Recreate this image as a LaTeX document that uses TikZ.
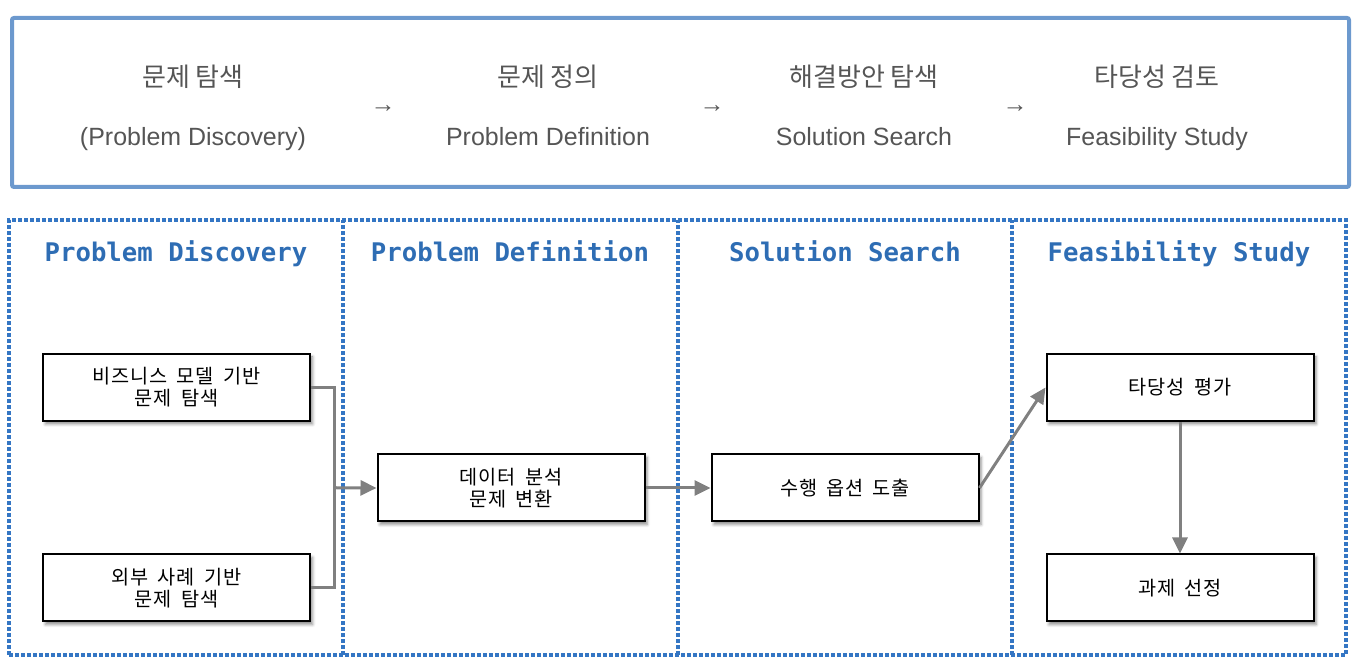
\documentclass[tikz,border=0pt]{standalone}
\usepackage{fontspec}
\setmainfont{Liberation Sans}
\newfontfamily\krfont{Noto Sans CJK KR}
\newfontfamily\boxfont{Noto Sans CJK KR}[WordSpace=1.8, LetterSpace=4]
\newfontfamily\monofont{DejaVu Sans Mono}
\usetikzlibrary{arrows.meta,calc,shadows.blur,positioning}

\definecolor{frameblue}{RGB}{108,153,206}
\definecolor{laneblue}{RGB}{52,118,196}
\definecolor{titleblue}{RGB}{46,109,180}
\definecolor{linkgray}{RGB}{128,128,128}
\definecolor{textgray}{RGB}{85,85,85}

\begin{document}
\begin{tikzpicture}[
	topframe/.style={draw=frameblue, line width=0.08cm, rounded corners=0.04cm},
	lane/.style={draw=laneblue, line width=0.065cm, dash pattern=on 0.07cm off 0.05cm},
	link/.style={draw=linkgray, line width=0.06cm},
	flow/.style={link, -{Triangle[length=0.32cm, width=0.3cm]}}]
	\useasboundingbox (0,0) rectangle (27.12,13.32);

	\draw[topframe] (0.24,9.58) rectangle (26.98,12.96);
	\begin{scope}[every node/.style={text=textgray, inner sep=0pt}]
		\node[font=\krfont\fontsize{14.8pt}{17pt}\selectfont] (d-kr) at (3.86,11.78) {문제 탐색};
		\node[font=\fontsize{14.2pt}{17pt}\selectfont, anchor=base] (d-en) at (3.86,10.4) {(Problem Discovery)};
		\node[font=\krfont\fontsize{14.8pt}{17pt}\selectfont] (f-kr) at (10.96,11.78) {문제 정의};
		\node[font=\fontsize{14.2pt}{17pt}\selectfont, anchor=base] (f-en) at (10.96,10.4) {Problem Definition};
		\node[font=\krfont\fontsize{14.8pt}{17pt}\selectfont] (s-kr) at (17.28,11.78) {해결방안 탐색};
		\node[font=\fontsize{14.2pt}{17pt}\selectfont, anchor=base] (s-en) at (17.28,10.4) {Solution Search};
		\node[font=\krfont\fontsize{14.8pt}{17pt}\selectfont] (v-kr) at (23.14,11.78) {타당성 검토};
		\node[font=\fontsize{14.2pt}{17pt}\selectfont, anchor=base] (v-en) at (23.14,10.4) {Feasibility Study};
		\node[font=\fontsize{14.2pt}{17pt}\selectfont] (ar1) at (7.66,11.14) {→};
		\node[font=\fontsize{14.2pt}{17pt}\selectfont] (ar2) at (14.24,11.14) {→};
		\node[font=\fontsize{14.2pt}{17pt}\selectfont] (ar3) at (20.3,11.14) {→};
	\end{scope}

	\draw[lane] (0.18,0.22) rectangle (26.92,8.92);
	\draw[lane] (6.86,0.22) -- (6.86,8.92);
	\draw[lane] (13.56,0.22) -- (13.56,8.92);
	\draw[lane] (20.24,0.22) -- (20.24,8.92);

	\begin{scope}[every node/.style={text=titleblue, anchor=base, font=\monofont\bfseries\fontsize{14.6pt}{17pt}\selectfont}]
		\node (t1) at (3.52,8.08) {Problem Discovery};
		\node (t2) at (10.2,8.08) {Problem Definition};
		\node (t3) at (16.9,8.08) {Solution Search};
		\node (t4) at (23.58,8.08) {Feasibility Study};
	\end{scope}

	\begin{scope}[every node/.style={draw=black, line width=0.04cm, fill=white,
			minimum width=5.34cm, minimum height=1.34cm, align=center,
			font=\boxfont\fontsize{11.2pt}{12.5pt}\selectfont,
			blur shadow={shadow xshift=0.05cm, shadow yshift=-0.06cm, shadow blur radius=0.06cm, shadow opacity=45}}]
		\node (b1) at (3.53,5.57) {비즈니스 모델 기반\\문제 탐색};
		\node (b2) at (3.53,1.56) {외부 사례 기반\\문제 탐색};
		\node (b3) at (10.22,3.56) {데이터 분석\\문제 변환};
		\node (b4) at (16.9,3.56) {수행 옵션 도출};
		\node (b5) at (23.6,5.57) {타당성 평가};
		\node (b6) at (23.6,1.56) {과제 선정};
	\end{scope}

	\coordinate (join) at ($(b1.east)!0.5!(b2.east)+(0.46,0)$);
	\draw[link] (b1.east) -| (join) |- (b2.east);
	\draw[flow] (join) -- (b3.west);
	\draw[flow] (b3.east) -- (b4.west);
	\draw[flow] (b4.east) -- (b5.west);
	\draw[flow] (b5.south) -- (b6.north);
\end{tikzpicture}
\end{document}
